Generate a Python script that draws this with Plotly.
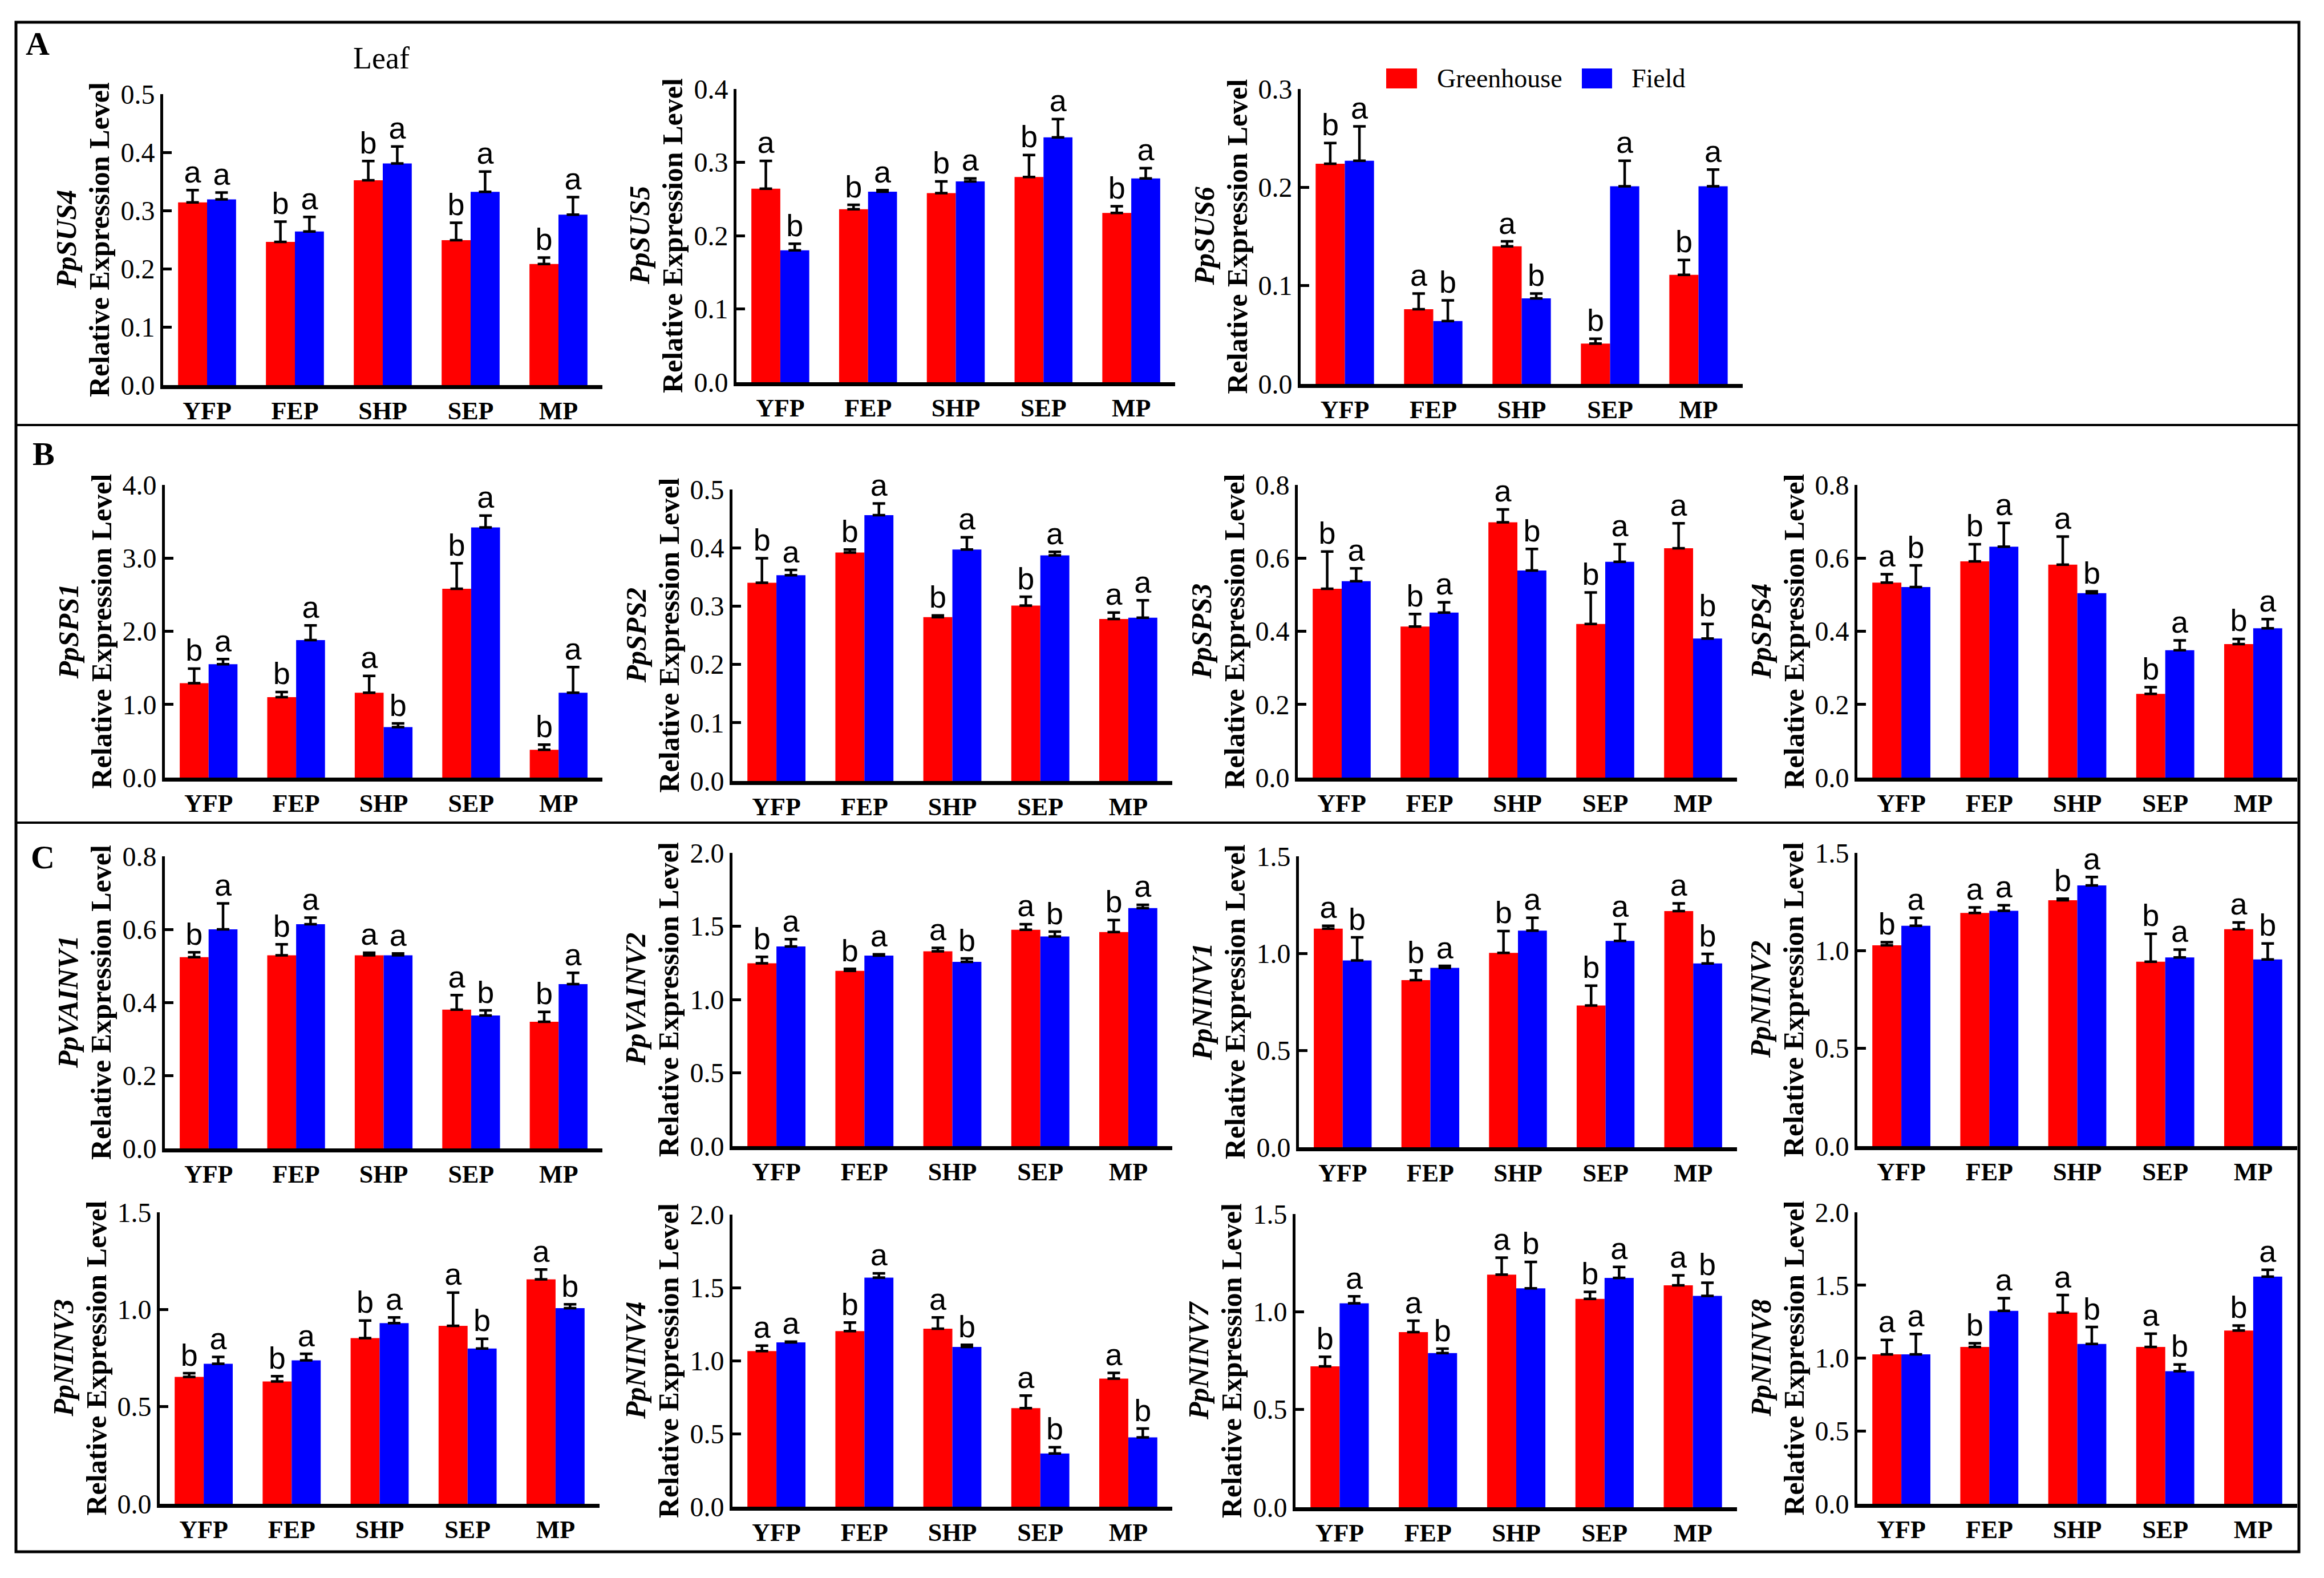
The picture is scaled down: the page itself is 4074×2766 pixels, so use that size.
import plotly.graph_objects as go

# ---------------- data ----------------
categories = ["YFP", "FEP", "SHP", "SEP", "MP"]
series_names = ["Greenhouse", "Field"]

genes = ["PpSUS4", "PpSUS5", "PpSUS6",
         "PpSPS1", "PpSPS2", "PpSPS3", "PpSPS4",
         "PpVAINV1", "PpVAINV2", "PpNINV1", "PpNINV2",
         "PpNINV3", "PpNINV4", "PpNINV7", "PpNINV8"]

y_max = [0.5, 0.4, 0.3, 4.0, 0.5, 0.8, 0.8, 0.8, 2.0, 1.5, 1.5, 1.5, 2.0, 1.5, 2.0]
y_step = [0.1, 0.1, 0.1, 1.0, 0.1, 0.2, 0.2, 0.2, 0.5, 0.5, 0.5, 0.5, 0.5, 0.5, 0.5]

sus4_gh = [0.314, 0.246, 0.352, 0.249, 0.208]
sus4_gh_err = [0.021, 0.035, 0.033, 0.030, 0.011]
sus4_f = [0.319, 0.264, 0.381, 0.332, 0.293]
sus4_f_err = [0.012, 0.025, 0.029, 0.035, 0.030]
sus4_gh_let = ["a", "b", "b", "b", "b"]
sus4_f_let = ["a", "a", "a", "a", "a"]

sus5_gh = [0.264, 0.236, 0.258, 0.280, 0.231]
sus5_gh_err = [0.038, 0.006, 0.016, 0.030, 0.009]
sus5_f = [0.180, 0.260, 0.274, 0.334, 0.278]
sus5_f_err = [0.009, 0.002, 0.004, 0.025, 0.014]
sus5_gh_let = ["a", "b", "b", "b", "b"]
sus5_f_let = ["b", "a", "a", "a", "a"]

sus6_gh = [0.224, 0.076, 0.140, 0.041, 0.111]
sus6_gh_err = [0.021, 0.016, 0.005, 0.005, 0.015]
sus6_f = [0.227, 0.064, 0.087, 0.201, 0.201]
sus6_f_err = [0.035, 0.021, 0.005, 0.026, 0.017]
sus6_gh_let = ["b", "a", "a", "b", "b"]
sus6_f_let = ["a", "b", "b", "a", "a"]

sps1_gh = [1.29, 1.10, 1.16, 2.58, 0.38]
sps1_gh_err = [0.20, 0.07, 0.23, 0.35, 0.07]
sps1_f = [1.55, 1.88, 0.69, 3.42, 1.16]
sps1_f_err = [0.07, 0.20, 0.05, 0.16, 0.35]
sps1_gh_let = ["b", "b", "a", "b", "b"]
sps1_f_let = ["a", "a", "b", "a", "a"]

sps2_gh = [0.340, 0.392, 0.281, 0.301, 0.278]
sps2_gh_err = [0.042, 0.005, 0.003, 0.015, 0.011]
sps2_f = [0.353, 0.456, 0.397, 0.387, 0.280]
sps2_f_err = [0.009, 0.020, 0.021, 0.006, 0.030]
sps2_gh_let = ["b", "b", "b", "b", "a"]
sps2_f_let = ["a", "a", "a", "a", "a"]

sps3_gh = [0.516, 0.413, 0.698, 0.420, 0.627]
sps3_gh_err = [0.102, 0.034, 0.035, 0.086, 0.068]
sps3_f = [0.537, 0.451, 0.566, 0.590, 0.380]
sps3_f_err = [0.035, 0.028, 0.059, 0.048, 0.040]
sps3_gh_let = ["b", "b", "a", "b", "a"]
sps3_f_let = ["a", "a", "b", "a", "b"]

sps4_gh = [0.533, 0.591, 0.582, 0.229, 0.365]
sps4_gh_err = [0.023, 0.047, 0.077, 0.018, 0.014]
sps4_f = [0.521, 0.631, 0.504, 0.348, 0.408]
sps4_f_err = [0.059, 0.065, 0.005, 0.027, 0.025]
sps4_gh_let = ["a", "b", "a", "b", "b"]
sps4_f_let = ["b", "a", "b", "a", "a"]

vainv1_gh = [0.524, 0.529, 0.529, 0.380, 0.347]
vainv1_gh_err = [0.013, 0.030, 0.007, 0.040, 0.027]
vainv1_f = [0.600, 0.614, 0.529, 0.364, 0.450]
vainv1_f_err = [0.071, 0.018, 0.005, 0.014, 0.031]
vainv1_gh_let = ["b", "b", "a", "a", "b"]
vainv1_f_let = ["a", "a", "a", "b", "a"]

vainv2_gh = [1.247, 1.196, 1.329, 1.476, 1.460]
vainv2_gh_err = [0.044, 0.013, 0.023, 0.038, 0.082]
vainv2_f = [1.362, 1.300, 1.257, 1.430, 1.624]
vainv2_f_err = [0.049, 0.008, 0.023, 0.033, 0.022]
vainv2_gh_let = ["b", "b", "a", "a", "b"]
vainv2_f_let = ["a", "a", "b", "b", "a"]

ninv1_gh = [1.127, 0.862, 1.002, 0.731, 1.218]
ninv1_gh_err = [0.015, 0.049, 0.113, 0.102, 0.039]
ninv1_f = [0.963, 0.925, 1.117, 1.064, 0.948]
ninv1_f_err = [0.119, 0.010, 0.066, 0.086, 0.049]
ninv1_gh_let = ["a", "b", "b", "b", "a"]
ninv1_f_let = ["b", "a", "a", "a", "b"]

ninv2_gh = [1.027, 1.193, 1.258, 0.943, 1.110]
ninv2_gh_err = [0.016, 0.028, 0.008, 0.143, 0.034]
ninv2_f = [1.127, 1.204, 1.334, 0.965, 0.955]
ninv2_f_err = [0.041, 0.028, 0.043, 0.040, 0.082]
ninv2_gh_let = ["b", "a", "b", "b", "a"]
ninv2_f_let = ["a", "a", "a", "a", "b"]

ninv3_gh = [0.653, 0.630, 0.853, 0.916, 1.155]
ninv3_gh_err = [0.019, 0.027, 0.090, 0.171, 0.051]
ninv3_f = [0.721, 0.738, 0.930, 0.799, 1.007]
ninv3_f_err = [0.035, 0.034, 0.029, 0.050, 0.020]
ninv3_gh_let = ["b", "b", "b", "a", "a"]
ninv3_f_let = ["a", "a", "a", "b", "b"]

ninv4_gh = [1.065, 1.202, 1.219, 0.675, 0.877]
ninv4_gh_err = [0.038, 0.059, 0.077, 0.086, 0.039]
ninv4_f = [1.125, 1.568, 1.094, 0.364, 0.475]
ninv4_f_err = [0.005, 0.030, 0.014, 0.043, 0.060]
ninv4_gh_let = ["a", "b", "a", "a", "a"]
ninv4_f_let = ["a", "a", "b", "b", "b"]

ninv7_gh = [0.721, 0.896, 1.190, 1.066, 1.135]
ninv7_gh_err = [0.049, 0.058, 0.087, 0.036, 0.051]
ninv7_f = [1.043, 0.789, 1.120, 1.173, 1.081]
ninv7_f_err = [0.036, 0.022, 0.135, 0.056, 0.067]
ninv7_gh_let = ["b", "a", "a", "b", "a"]
ninv7_f_let = ["a", "b", "b", "a", "b"]

ninv8_gh = [1.025, 1.076, 1.312, 1.076, 1.189]
ninv8_gh_err = [0.099, 0.026, 0.120, 0.091, 0.034]
ninv8_f = [1.025, 1.324, 1.097, 0.910, 1.559]
ninv8_f_err = [0.140, 0.087, 0.116, 0.046, 0.047]
ninv8_gh_let = ["a", "b", "a", "a", "b"]
ninv8_f_let = ["a", "a", "b", "b", "a"]

panel_labels = ["A", "B", "C"]
tissue_label = "Leaf"

# ---------------- assemble ----------------
panels = [
    (sus4_gh, sus4_gh_err, sus4_f, sus4_f_err, sus4_gh_let, sus4_f_let),
    (sus5_gh, sus5_gh_err, sus5_f, sus5_f_err, sus5_gh_let, sus5_f_let),
    (sus6_gh, sus6_gh_err, sus6_f, sus6_f_err, sus6_gh_let, sus6_f_let),
    (sps1_gh, sps1_gh_err, sps1_f, sps1_f_err, sps1_gh_let, sps1_f_let),
    (sps2_gh, sps2_gh_err, sps2_f, sps2_f_err, sps2_gh_let, sps2_f_let),
    (sps3_gh, sps3_gh_err, sps3_f, sps3_f_err, sps3_gh_let, sps3_f_let),
    (sps4_gh, sps4_gh_err, sps4_f, sps4_f_err, sps4_gh_let, sps4_f_let),
    (vainv1_gh, vainv1_gh_err, vainv1_f, vainv1_f_err, vainv1_gh_let, vainv1_f_let),
    (vainv2_gh, vainv2_gh_err, vainv2_f, vainv2_f_err, vainv2_gh_let, vainv2_f_let),
    (ninv1_gh, ninv1_gh_err, ninv1_f, ninv1_f_err, ninv1_gh_let, ninv1_f_let),
    (ninv2_gh, ninv2_gh_err, ninv2_f, ninv2_f_err, ninv2_gh_let, ninv2_f_let),
    (ninv3_gh, ninv3_gh_err, ninv3_f, ninv3_f_err, ninv3_gh_let, ninv3_f_let),
    (ninv4_gh, ninv4_gh_err, ninv4_f, ninv4_f_err, ninv4_gh_let, ninv4_f_let),
    (ninv7_gh, ninv7_gh_err, ninv7_f, ninv7_f_err, ninv7_gh_let, ninv7_f_let),
    (ninv8_gh, ninv8_gh_err, ninv8_f, ninv8_f_err, ninv8_gh_let, ninv8_f_let),
]

W, H = 4074, 2766
# plot-area boxes in pixels: (x0, x1, ytop, ybottom)
boxes = [
    (286, 1056, 165, 675), (1291, 2060, 156, 670), (2280, 3055, 156, 673),
    (289, 1056, 850, 1363), (1284, 2055, 858, 1369), (2275, 3045, 850, 1363), (3256, 4027, 850, 1363),
    (289, 1056, 1501, 2013), (1284, 2055, 1495, 2009), (2277, 3045, 1501, 2011), (3256, 4027, 1495, 2009),
    (280, 1051, 2125, 2636), (1284, 2055, 2129, 2641), (2271, 3045, 2128, 2642), (3256, 4027, 2125, 2636),
]

RED, BLUE = "#FF0000", "#0000FF"
SERIF = "Liberation Serif"
SANS = "Liberation Sans"
GAP = 0.34

fig = go.Figure()
annotations = []
layout_axes = {}

for i, (gh, ghe, f, fe, ghl, fl) in enumerate(panels):
    sfx = "" if i == 0 else str(i + 1)
    xa, ya = "x" + sfx, "y" + sfx
    for name, vals, errs, lets, col, grp in [
        (series_names[0], gh, ghe, ghl, RED, "g"),
        (series_names[1], f, fe, fl, BLUE, "f"),
    ]:
        fig.add_trace(go.Bar(
            x=categories, y=vals, name=name, marker=dict(color=col, line=dict(width=0)),
            error_y=dict(type="data", array=errs, arrayminus=[0] * len(errs), symmetric=False,
                         color="black", thickness=4.5, width=11),
            offsetgroup=grp, alignmentgroup="ag" + str(i),
            xaxis=xa, yaxis=ya, showlegend=False, hoverinfo="skip"))
        fig.add_trace(go.Scatter(
            x=categories, y=[v + e for v, e in zip(vals, errs)], mode="text", text=lets,
            textposition="top center", textfont=dict(family=SANS, size=54, color="black"),
            offsetgroup=grp, alignmentgroup="ag" + str(i),
            xaxis=xa, yaxis=ya, showlegend=False, hoverinfo="skip", cliponaxis=False))

    x0, x1, yt, yb = boxes[i]
    layout_axes["xaxis" + sfx] = dict(
        domain=[x0 / W, x1 / W], anchor=ya, type="category",
        showline=True, linecolor="black", linewidth=7, ticks="", showgrid=False,
        zeroline=False, tickfont=dict(family=SERIF, size=44, color="black", weight="bold"),
        fixedrange=True)
    layout_axes["yaxis" + sfx] = dict(
        domain=[1 - yb / H, 1 - yt / H], anchor=xa, range=[0, y_max[i]],
        tick0=0, dtick=y_step[i], tickformat=".1f",
        showline=True, linecolor="black", linewidth=5, ticks="inside", ticklen=15,
        tickwidth=4.5, tickcolor="black", showgrid=False, zeroline=False,
        tickfont=dict(family=SERIF, size=48, color="black"), fixedrange=True)

    ymid = 1 - (yt + yb) / 2 / H
    annotations.append(dict(
        x=(x0 - 112) / W, y=ymid, xref="paper", yref="paper", showarrow=False,
        text="<b>Relative Expression Level</b>", textangle=-90,
        font=dict(family=SERIF, size=50, color="black"), xanchor="center", yanchor="middle"))
    annotations.append(dict(
        x=(x0 - 170) / W, y=ymid, xref="paper", yref="paper", showarrow=False,
        text="<b><i>" + genes[i] + "</i></b>", textangle=-90,
        font=dict(family=SERIF, size=50, color="black"), xanchor="center", yanchor="middle"))

# panel letters and tissue title
for lab, (px, py) in zip(panel_labels, [(66, 77), (76, 795), (75, 1502)]):
    annotations.append(dict(x=px / W, y=1 - py / H, xref="paper", yref="paper", showarrow=False,
                            text="<b>" + lab + "</b>", font=dict(family=SERIF, size=58, color="black"),
                            xanchor="center", yanchor="middle"))
annotations.append(dict(x=668 / W, y=1 - 102 / H, xref="paper", yref="paper", showarrow=False,
                        text=tissue_label, font=dict(family=SERIF, size=54, color="black"),
                        xanchor="center", yanchor="middle"))

# legend (drawn manually)
shapes = []
for name, col, sx0, sx1, tx in [(series_names[0], RED, 2430, 2484, 2517),
                                (series_names[1], BLUE, 2773, 2826, 2858)]:
    shapes.append(dict(type="rect", xref="paper", yref="paper", x0=sx0 / W, x1=sx1 / W,
                       y0=1 - 155 / H, y1=1 - 120 / H, fillcolor=col, line=dict(width=0)))
    annotations.append(dict(x=tx / W, y=1 - 137 / H, xref="paper", yref="paper", showarrow=False,
                            text=name, font=dict(family=SERIF, size=46, color="black"),
                            xanchor="left", yanchor="middle"))

# outer frame and separators
shapes.append(dict(type="rect", xref="paper", yref="paper", x0=28 / W, x1=4030 / W,
                   y0=1 - 2720 / H, y1=1 - 39 / H, line=dict(color="black", width=5)))
for sy in [745, 1442]:
    shapes.append(dict(type="line", xref="paper", yref="paper", x0=28 / W, x1=4030 / W,
                       y0=1 - sy / H, y1=1 - sy / H, line=dict(color="black", width=4)))

fig.update_layout(
    width=W, height=H, autosize=False, margin=dict(l=0, r=0, t=0, b=0, autoexpand=False),
    paper_bgcolor="white", plot_bgcolor="white",
    barmode="group", bargap=GAP, bargroupgap=0,
    scattermode="group", scattergap=GAP,
    showlegend=False, annotations=annotations, shapes=shapes,
    **layout_axes)

fig.write_html("out.html", config={"displayModeBar": False},
               post_script="document.body.style.margin='0px';")
